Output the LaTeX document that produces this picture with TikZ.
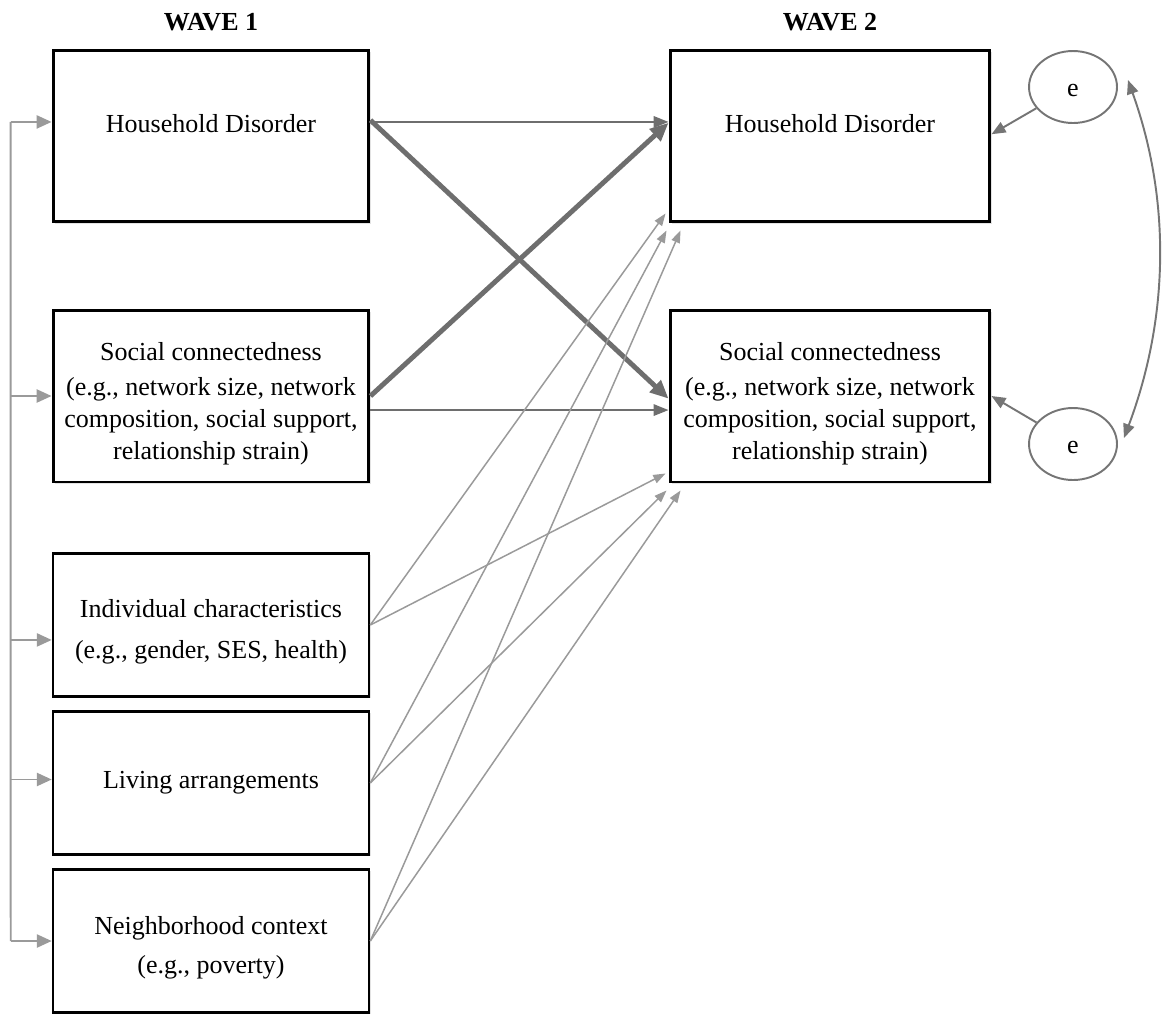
\documentclass[tikz,border=0pt]{standalone}
\usepackage{fontspec}
\setmainfont{Liberation Serif}
\usetikzlibrary{arrows.meta,shadows,shapes.geometric}

\definecolor{pathdark}{HTML}{6E6E6E}
\definecolor{pathlight}{HTML}{9A9A9A}
\definecolor{errgray}{HTML}{757575}

\tikzset{
    box/.style={draw=black, line width=1.7pt, fill=white,
        minimum width=6.32cm, minimum height=3.44cm, align=center,
        drop shadow={opacity=0.22, shadow xshift=1pt, shadow yshift=-1pt}},
    lowbox/.style={box, line width=1.5pt, minimum height=2.86cm},
    rightbox/.style={box, minimum width=6.4cm},
    err/.style={ellipse, draw=errgray, line width=1.1pt, fill=white,
        minimum width=1.76cm, minimum height=1.44cm, text height=1.15em},
    thickpath/.style={draw=pathdark, line width=2.8pt,
        -{Triangle[length=10.5pt,width=9pt]}},
    thinpath/.style={draw=pathdark, line width=1.1pt,
        -{Triangle[length=8.5pt,width=6.5pt]}},
    lightpath/.style={draw=pathlight, line width=0.85pt,
        -{Triangle[length=7pt,width=5pt]}},
    feed/.style={draw=pathlight, line width=1.1pt,
        -{Triangle[length=8.5pt,width=7.5pt]}},
    errpath/.style={draw=errgray, line width=1.1pt},
    errtip/.tip={Triangle[length=8pt,width=6.5pt]}
}

\begin{document}
\begin{tikzpicture}[x=0.02cm, y=-0.02cm, font=\fontsize{14.8}{18.1}\selectfont]
    \useasboundingbox (0,0) rectangle (1163,1015);

    % 标题
    \node[font=\fontsize{14.8}{18.1}\selectfont\bfseries] (wave1) at (211,22) {WAVE 1};
    \node[font=\fontsize{14.8}{18.1}\selectfont\bfseries] (wave2) at (830,22) {WAVE 2};

    % 第一波
    \node[box, text depth=1.4em] (hd1) at (211,136) {Household Disorder};
    \node[box, text height=75pt] (sc1) at (211,396) {Social connectedness\\[2pt]
        (e.g., network size, network\\ composition, social support,\\ relationship strain)};
    \node[lowbox, text height=41pt] (ic) at (211,625) {Individual characteristics\\[5pt] (e.g., gender, SES, health)};
    \node[lowbox] (la) at (211,783) {Living arrangements};
    \node[lowbox, text height=40.5pt] (nc) at (211,941) {Neighborhood context\\[4pt] (e.g., poverty)};

    % 第二波
    \node[rightbox, text depth=1.4em] (hd2) at (830,136) {Household Disorder};
    \node[rightbox, text height=75pt] (sc2) at (830,396) {Social connectedness\\[2pt]
        (e.g., network size, network\\ composition, social support,\\ relationship strain)};

    % 误差项
    \node[err] (e1) at (1073,87) {e};
    \node[err] (e2) at (1073,444) {e};

    % 左侧相关线
    \draw[errpath, draw=pathlight] ([xshift=-0.82cm, yshift=8pt]hd1.west) -- ([xshift=-0.82cm]nc.west);
    \foreach \n/\s in {hd1/8pt, sc1/0pt, ic/-8.5pt, la/2pt, nc/0pt}
        \draw[feed] ([xshift=-0.82cm, yshift=\s]\n.west) -- ([yshift=\s]\n.west);

    % 交叉滞后路径
    \draw[thinpath] ([yshift=8pt]hd1.east) -- ([yshift=8pt]hd2.west);
    \draw[thickpath] ([yshift=9pt]hd1.east) -- ([yshift=-1.5pt]sc2.west);
    \draw[thickpath] (sc1.east) -- ([yshift=7.5pt]hd2.west);
    \draw[thinpath] ([yshift=-8pt]sc1.east) -- ([yshift=-8pt]sc2.west);

    % 控制变量
    \foreach \src/\dx/\dy in {ic/-3/-10, la/-2/7, nc/12/7} {
        \draw[lightpath] (\src.east) -- ([shift={(\dx,\dy)}]hd2.south west);
        \draw[lightpath] (\src.east) -- ([shift={(\dx,\dy)}]sc2.south west);
    }

    % 误差路径
    \draw[errpath, -errtip] (e1) -- ([yshift=1pt]hd2.east);
    \draw[errpath, -errtip] (e2) -- (sc2.east);
    \draw[errpath, errtip-errtip] ([shift={(10,-7)}]e1.east)
        .. controls +(43,120) and +(45,-120) .. ([shift={(6,-6)}]e2.east);

\end{tikzpicture}
\end{document}
